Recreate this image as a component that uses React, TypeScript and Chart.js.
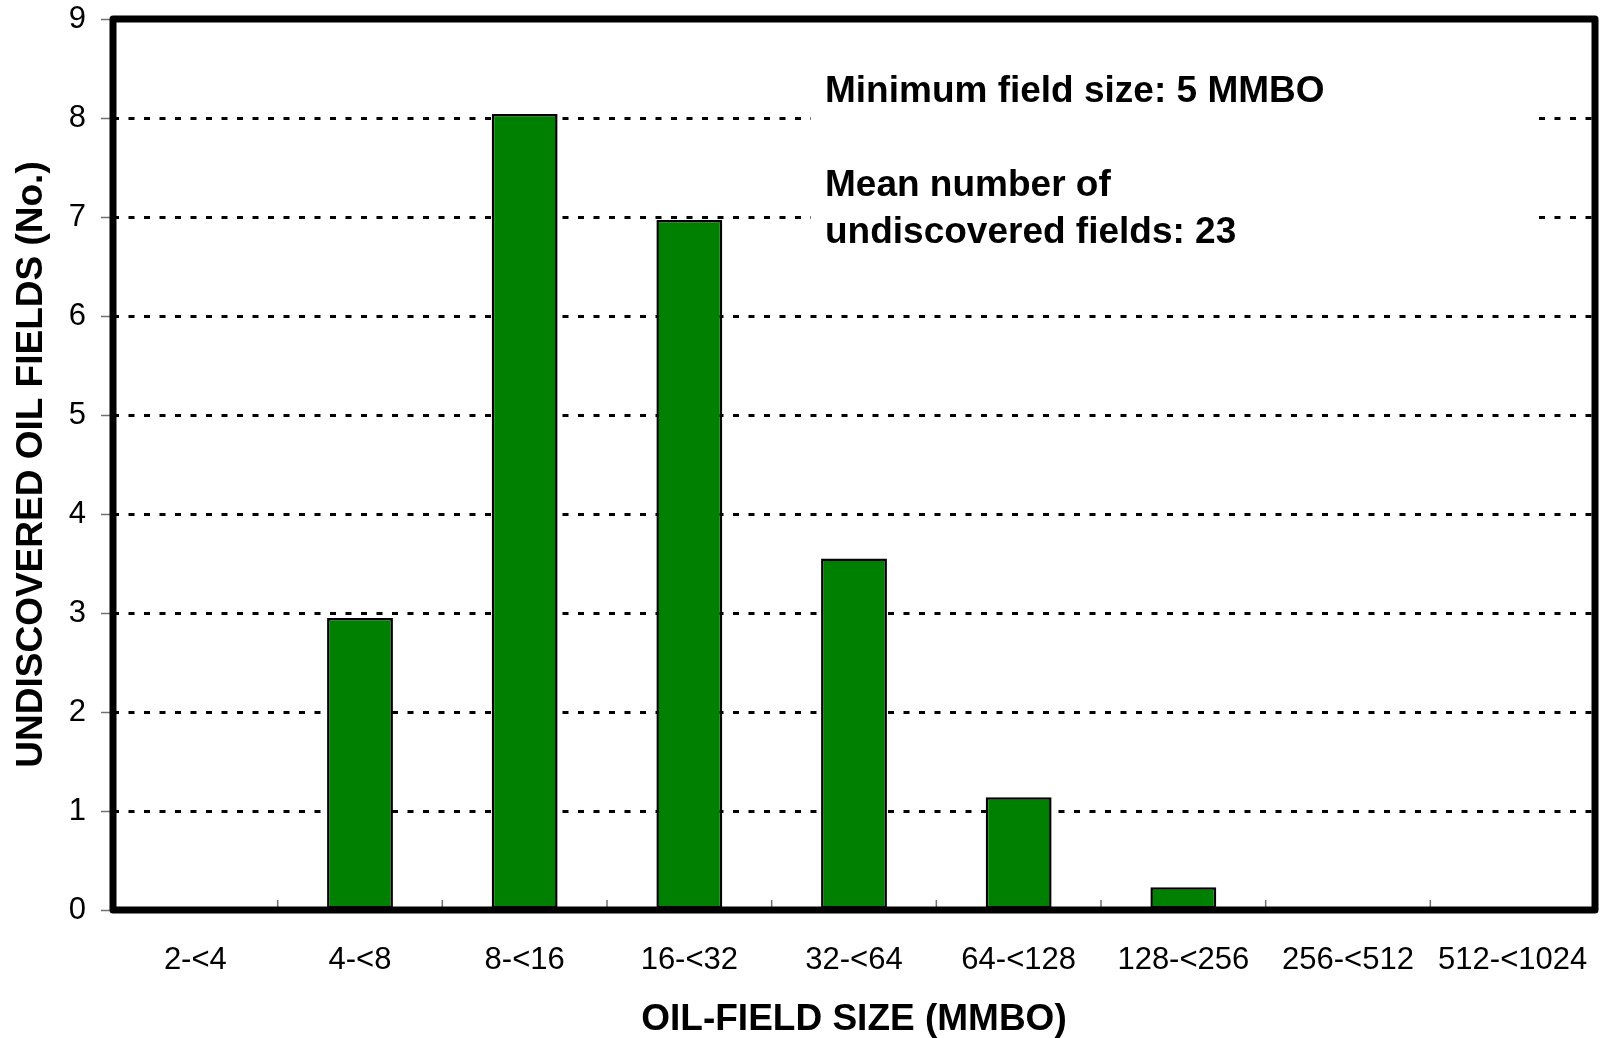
import React, { useEffect, useRef } from 'react';
import { Chart, registerables } from 'chart.js';

Chart.register(...registerables);

// size classes on the x axis
const sizeClasses = [
  '2-<4',
  '4-<8',
  '8-<16',
  '16-<32',
  '32-<64',
  '64-<128',
  '128-<256',
  '256-<512',
  '512-<1024',
];

// mean number of undiscovered fields per size class
const fieldCounts = [0, 2.95, 8.04, 6.97, 3.55, 1.14, 0.23, 0, 0];

const yMin = 0;
const yMax = 9;

const noteLines = [
  'Minimum field size: 5 MMBO',
  'Mean number of',
  'undiscovered fields: 23',
];

const FONT = "'Liberation Sans', Arial, Helvetica, sans-serif";

// white box with the notes, drawn over the grid but under the bars
const notesPlugin = {
  id: 'notes',
  beforeDatasetsDraw(chart: Chart) {
    const { ctx, chartArea } = chart;
    const x0 = chartArea.left + 698;
    ctx.save();
    ctx.fillStyle = '#ffffff';
    ctx.fillRect(x0, chartArea.top + 36, 728, 200);
    ctx.fillStyle = '#000000';
    ctx.font = `bold 37px ${FONT}`;
    ctx.textAlign = 'left';
    ctx.textBaseline = 'alphabetic';
    const baselines = [83, 177, 224];
    noteLines.forEach((line, i) => {
      ctx.fillText(line, x0 + 14, chartArea.top + baselines[i]);
    });
    ctx.restore();
  },
};

// heavy frame round the plot area and small inside ticks between classes
const framePlugin = {
  id: 'frame',
  afterDraw(chart: Chart) {
    const { ctx, chartArea } = chart;
    const xScale = chart.scales.x;
    ctx.save();
    ctx.strokeStyle = '#707070';
    ctx.lineWidth = 1.5;
    for (let i = 1; i < sizeClasses.length; i++) {
      const bx = (xScale.getPixelForValue(i - 1) + xScale.getPixelForValue(i)) / 2;
      ctx.beginPath();
      ctx.moveTo(bx, chartArea.bottom);
      ctx.lineTo(bx, chartArea.bottom - 10);
      ctx.stroke();
    }
    ctx.strokeStyle = '#000000';
    ctx.lineWidth = 7;
    ctx.lineJoin = 'round';
    ctx.strokeRect(
      chartArea.left,
      chartArea.top,
      chartArea.right - chartArea.left,
      chartArea.bottom - chartArea.top
    );
    ctx.restore();
  },
};

const App: React.FC = () => {
  const chartRef = useRef<HTMLCanvasElement | null>(null);
  const chartInstance = useRef<Chart | null>(null);

  useEffect(() => {
    if (!chartRef.current) return;
    const ctx = chartRef.current.getContext('2d');
    if (!ctx) return;

    Chart.defaults.font.family = FONT;
    Chart.defaults.color = '#000000';

    chartInstance.current = new Chart(ctx, {
      type: 'bar',
      data: {
        labels: sizeClasses,
        datasets: [
          {
            label: 'Undiscovered oil fields',
            data: fieldCounts,
            backgroundColor: '#008000',
            borderColor: '#000000',
            borderWidth: 2.5,
            borderSkipped: false,
            barPercentage: 0.4,
            categoryPercentage: 1,
          },
        ],
      },
      options: {
        responsive: true,
        maintainAspectRatio: false,
        animation: false,
        layout: {
          padding: { top: 19, right: 5, bottom: 0, left: 0 },
        },
        plugins: {
          legend: { display: false },
          tooltip: { enabled: false },
        },
        scales: {
          x: {
            afterFit: (scale: any) => {
              scale.height = 128;
              scale.paddingLeft = 0;
              scale.paddingRight = 0;
            },
            grid: { display: false, drawTicks: false },
            border: { display: false },
            ticks: {
              color: '#000000',
              font: { size: 31 },
              padding: 32,
              maxRotation: 0,
              autoSkip: false,
            },
            title: {
              display: true,
              text: 'OIL-FIELD SIZE (MMBO)',
              color: '#000000',
              font: { size: 37, weight: 'bold' },
              padding: { top: 0, bottom: -4 },
            },
          },
          y: {
            min: yMin,
            max: yMax,
            afterFit: (scale: any) => {
              scale.width = 113;
              scale.paddingTop = 0;
              scale.paddingBottom = 0;
            },
            grid: {
              color: '#000000',
              lineWidth: 3,
              drawTicks: true,
              tickLength: 12,
              tickColor: '#707070',
              tickWidth: 1.5,
              tickBorderDash: [],
            },
            border: { display: false, dash: [6, 9.5] },
            ticks: {
              stepSize: 1,
              color: '#000000',
              font: { size: 31 },
              padding: 15,
            },
            title: {
              display: true,
              text: 'UNDISCOVERED OIL FIELDS (No.)',
              color: '#000000',
              font: { size: 37, weight: 'bold' },
              padding: { top: 10, bottom: 0 },
            },
          },
        },
      },
      plugins: [notesPlugin, framePlugin],
    });

    return () => {
      if (chartInstance.current) {
        chartInstance.current.destroy();
        chartInstance.current = null;
      }
    };
  }, []);

  return (
    <div
      style={{
        position: 'absolute',
        left: 0,
        top: 0,
        width: 1600,
        height: 1038,
        background: '#ffffff',
      }}
    >
      <canvas ref={chartRef}></canvas>
    </div>
  );
};

export default App;
